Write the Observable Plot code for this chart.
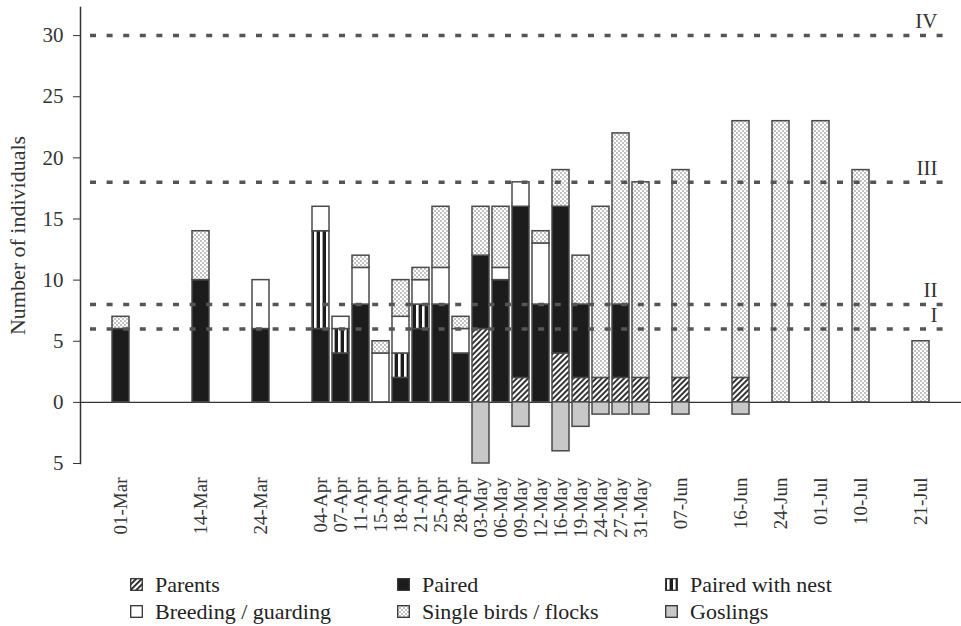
<!DOCTYPE html>
<html>
<head>
<meta charset="utf-8">
<script src="https://cdn.jsdelivr.net/npm/d3@7"></script>
<script src="https://cdn.jsdelivr.net/npm/@observablehq/plot@0.6"></script>
<style>
  html, body { margin: 0; padding: 0; background: #fff; }
  #chart svg { display: block; }
  #legend { position: relative; width: 961px; height: 66px; font-family: "Liberation Serif", "Times New Roman", "DejaVu Serif", serif; font-size: 22px; color: #222; }
  .item { position: absolute; display: flex; align-items: center; height: 27px; line-height: 27px; white-space: nowrap; }
  .item svg { margin-right: 12px; flex: none; }
</style>
</head>
<body>
<svg width="0" height="0" style="position:absolute">
  <defs>
    <pattern id="hatch" width="4" height="4" patternUnits="userSpaceOnUse" patternTransform="rotate(45)">
      <rect width="4" height="4" fill="#fff"/>
      <rect width="1.9" height="4" fill="#2a2a2a"/>
    </pattern>
    <pattern id="nest" width="6" height="6" patternUnits="userSpaceOnUse">
      <rect width="6" height="6" fill="#1c1c1c"/>
      <rect x="2" width="2.6" height="6" fill="#fff"/>
    </pattern>
    <pattern id="dots" width="4" height="4" patternUnits="userSpaceOnUse">
      <rect width="4" height="4" fill="#fff"/>
      <circle cx="1" cy="1" r="0.65" fill="#555"/>
      <circle cx="3" cy="3" r="0.65" fill="#555"/>
    </pattern>
  </defs>
</svg>
<div id="chart"></div>
<div id="legend"></div>
<script>
// ---- data ----
const dates = ["01-Mar","14-Mar","24-Mar","04-Apr","07-Apr","11-Apr","15-Apr","18-Apr","21-Apr","25-Apr","28-Apr",
  "03-May","06-May","09-May","12-May","16-May","19-May","24-May","27-May","31-May","07-Jun","16-Jun","24-Jun","01-Jul","10-Jul","21-Jul"];
// empty category slots following each date on the category axis
const gapsAfter = [3,2,2,0,0,0,0,0,0,0,0, 0,0,0,0,0,0,0,0,1,2,1,1,1,2,0];

const parents  = [0,0,0,0,0,0,0,0,0,0,0, 6,0,2,0,4,2,2,2,2,2,2,0,0,0,0];
const paired   = [6,10,6,6,4,8,0,2,6,8,4, 6,10,14,8,12,6,0,6,0,0,0,0,0,0,0];
const nest     = [0,0,0,8,2,0,0,2,2,0,0, 0,0,0,0,0,0,0,0,0,0,0,0,0,0,0];
const breeding = [0,0,4,2,1,3,4,3,2,3,2, 0,1,2,5,0,0,0,0,0,0,0,0,0,0,0];
const single   = [1,4,0,0,0,1,1,3,1,5,1, 4,5,0,1,3,4,14,14,16,17,21,23,23,19,5];
const goslings = [0,0,0,0,0,0,0,0,0,0,0, -5,0,-2,0,-4,-2,-1,-1,-1,-1,-1,0,0,0,0];

const seriesNames = ["Parents","Paired","Paired with nest","Breeding / guarding","Single birds / flocks","Goslings"];
const seriesFills = ["url(#hatch)","#1c1c1c","url(#nest)","#ffffff","url(#dots)","#c8c8c8"];
const seriesValues = [parents, paired, nest, breeding, single, goslings];

const refValues = [6, 8, 18, 30];
const refLabels = ["I", "II", "III", "IV"];
const yTicks = [-5, 0, 5, 10, 15, 20, 25, 30];

// ---- build table ----
const slots = [];
dates.forEach((d, i) => {
  slots.push(d);
  for (let k = 0; k < gapsAfter[i]; k++) slots.push(`gap-${i}-${k}`);
});
const table = [];
seriesNames.forEach((s, si) => {
  dates.forEach((d, di) => {
    const v = seriesValues[si][di];
    if (v !== 0) table.push({date: d, series: s, value: v});
  });
});

const serif = '"Liberation Serif", "Times New Roman", "DejaVu Serif", serif';
const svg = Plot.plot({
  width: 961,
  height: 560,
  marginLeft: 80,
  marginRight: 0,
  marginTop: 7,
  marginBottom: 97,
  style: {fontFamily: serif, background: "#fff", color: "#333"},
  x: {type: "band", domain: slots, range: [100.76, 940.2], paddingInner: 0.17, paddingOuter: 0.085, axis: null},
  y: {domain: [-5, 32.3], axis: null},
  color: {type: "ordinal", domain: seriesNames, range: seriesFills},
  marks: [
    Plot.ruleY([0], {stroke: "#333", strokeWidth: 1.4}),
    Plot.barY(table, Plot.stackY({x: "date", y: "value", fill: "series", order: seriesNames, stroke: "#4a4a4a", strokeWidth: 1.5})),
    Plot.ruleY(refValues, {stroke: "#555", strokeWidth: 3.5, strokeDasharray: "6,10.6", insetLeft: 10, insetRight: 16}),
    Plot.text(refValues, {y: d => d, text: (d, i) => refLabels[i], frameAnchor: "right", textAnchor: "end", dx: -24, dy: -14, fontSize: 21, fontFamily: serif, fill: "#333"}),
    Plot.frame({anchor: "left", stroke: "#333", strokeWidth: 1.5}),
    Plot.axisY({ticks: yTicks, tickFormat: d => Math.abs(d), tickSize: 7, tickPadding: 10, fontSize: 21, fontFamily: serif, label: null}),
    Plot.axisX({ticks: dates, tickSize: 0, tickPadding: 14, tickRotate: -90, fontSize: 19, fontFamily: serif, label: null}),
    Plot.text(["Number of individuals"], {frameAnchor: "left", textAnchor: "middle", dx: -63, rotate: -90, fontSize: 22, fontFamily: serif, fill: "#333"})
  ]
});
document.getElementById("chart").appendChild(svg);

// ---- legend ----
const legendPos = [[130, 10.5], [397, 10.5], [665, 10.5], [130, 37.5], [397, 37.5], [665, 37.5]];
const legendOrder = ["Parents", "Paired", "Paired with nest", "Breeding / guarding", "Single birds / flocks", "Goslings"];
const legend = document.getElementById("legend");
legendOrder.forEach((name, i) => {
  const fill = seriesFills[seriesNames.indexOf(name)];
  const el = document.createElement("div");
  el.className = "item";
  el.style.left = legendPos[i][0] + "px";
  el.style.top = legendPos[i][1] + "px";
  el.innerHTML = `<svg width="13" height="13"><rect x="0.7" y="0.7" width="11.6" height="11.6" fill="${fill}" stroke="#333" stroke-width="1.3"/></svg><span>${name}</span>`;
  legend.appendChild(el);
});
</script>
</body>
</html>
